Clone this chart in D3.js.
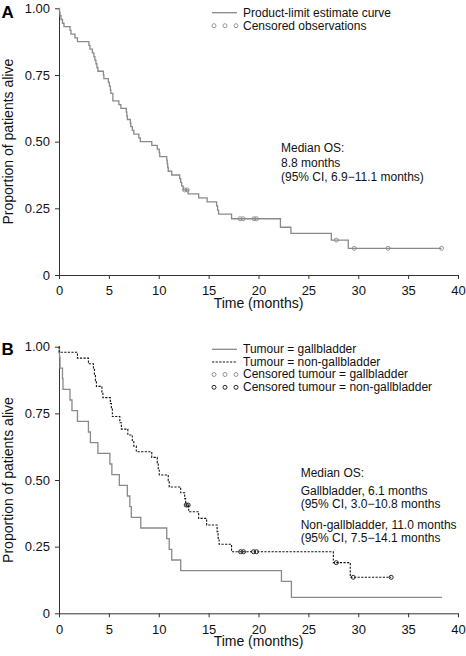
<!DOCTYPE html>
<html>
<head>
<meta charset="utf-8">
<script src="https://cdn.jsdelivr.net/npm/d3@7"></script>
<style>
  html, body { margin: 0; padding: 0; background: #fff; }
  svg { display: block; font-family: "Liberation Sans", Arial, Helvetica, sans-serif; }
</style>
</head>
<body>
<svg id="chart" width="466" height="656"></svg>
<script>
// ---------- DATA ----------
const xTicks = [0, 5, 10, 15, 20, 25, 30, 35, 40];
const yTicks = [0, 0.25, 0.5, 0.75, 1];
const yTickLabels = ["0", "0.25", "0.50", "0.75", "1.00"];

// Panel A: all patients (time of step, survival after step)
const allTimes = [0, 0.05, 0.1, 0.2, 0.35, 0.5, 1.1, 1.2, 1.6, 1.85, 3.0, 3.1, 3.35, 3.5, 3.6, 3.7, 3.8, 3.9, 4.45, 4.5,
  4.95, 5.05, 5.15, 5.2, 5.4, 6.0, 6.2, 6.75, 6.8, 6.85, 7.15, 7.2, 7.35, 7.5, 8.0, 8.15, 9.3, 9.85, 10.05, 10.1,
  10.8, 10.85, 10.9, 10.95, 11.3, 12.1, 12.2, 12.3, 12.45, 12.95, 14.0, 14.85, 15.8, 15.9, 16.0, 17.3, 22.2, 23.25, 27.3, 29.0];
const allSurv = [1, .986, .972, .958, .944, .931, .917, .903, .889, .875, .861, .847, .833, .819, .806, .792, .778, .764, .75, .736,
  .722, .708, .694, .681, .653, .639, .625, .611, .597, .583, .569, .556, .542, .528, .514, .5, .486, .472, .458, .444,
  .431, .417, .403, .389, .375, .361, .347, .333, .319, .304, .289, .274, .259, .243, .228, .211, .179, .156, .131, .1];
const allCensor = [12.6, 12.85, 18.15, 18.45, 19.55, 19.8, 27.8, 29.6, 33.0, 38.35];
const allEnd = 38.35;

// Panel B: gallbladder
const gbTimes = [0, 0.05, 0.1, 0.35, 0.4, 1.1, 1.3, 1.85, 2.95, 3.15, 3.9, 5.1, 5.3, 6.05, 6.85, 7.1, 7.25, 8.2, 10.8, 11.05, 11.3, 12.2, 22.3, 23.3];
const gbSurv = [1, .96, .92, .88, .84, .80, .76, .72, .68, .64, .60, .56, .52, .48, .44, .40, .36, .32, .28, .24, .20, .16, .12, .06];
const gbCensor = [];
const gbEnd = 38.4;

// Panel B: non-gallbladder
const ngbTimes = [0, 0.01, 1.85, 2.95, 3.45, 3.55, 3.65, 3.75, 4.3, 4.4, 5.15, 5.25, 5.35, 6.1, 6.25, 6.9, 7.35, 7.5, 7.75, 9.3,
  9.85, 9.95, 10.05, 10.95, 11.05, 12.2, 12.6, 12.7, 13.0, 14.0, 14.8, 15.85, 15.95, 16.05, 17.3, 27.5, 29.2];
const ngbSurv = [1, .979, .957, .936, .915, .894, .872, .851, .83, .809, .787, .766, .738, .715, .691, .669, .648, .627, .606, .585,
  .564, .542, .519, .497, .474, .452, .43, .406, .381, .356, .331, .306, .282, .259, .231, .19, .135];
const ngbCensor = [12.75, 12.95, 18.2, 18.5, 19.5, 19.8, 27.8, 29.5, 33.3];
const ngbEnd = 33.3;

const legendA = ["Product-limit estimate curve", "Censored observations"];
const legendB = ["Tumour = gallbladder", "Tumour = non-gallbladder", "Censored tumour = gallbladder", "Censored tumour = non-gallbladder"];
const medianA = ["Median OS:", "8.8 months", "(95% CI, 6.9\u221211.1 months)"];
const medianB = ["Median OS:", "Gallbladder, 6.1 months", "(95% CI, 3.0\u221210.8 months", "Non-gallbladder, 11.0 months", "(95% CI, 7.5\u221214.1 months"];

// ---------- DRAW ----------
const svg = d3.select("#chart");
const GRAY = "#8a8a8a";
const AXIS = "#333";
const x = d3.scaleLinear().domain([0, 40]).range([59, 458]);

function stepPoints(times, surv, end) {
  const pts = times.map((t, i) => [t, surv[i]]);
  pts.push([end, surv[surv.length - 1]]);
  return pts;
}
function survAt(times, surv, t) {
  const i = d3.bisectRight(times, t) - 1;
  return surv[Math.max(0, i)];
}

function drawPanel(y, letter, letterY) {
  const g = svg.append("g");
  const ya = g.append("g").attr("transform", `translate(${x(0)},0)`)
    .call(d3.axisLeft(y).tickValues(yTicks).tickFormat((d, i) => yTickLabels[i]).tickSize(4).tickPadding(5).tickSizeOuter(0));
  const xa = g.append("g").attr("transform", `translate(0,${y(0)})`)
    .call(d3.axisBottom(x).tickValues(xTicks).tickFormat(d3.format("d")).tickSize(4).tickPadding(7).tickSizeOuter(0));
  [ya, xa].forEach(a => {
    a.selectAll("path, line").attr("stroke", AXIS).attr("stroke-width", 1);
    a.selectAll("text").attr("fill", "#111").style("font-size", "13px").style("font-family", "'Liberation Sans', Arial, sans-serif");
  });
  g.append("text").attr("x", 258.5).attr("y", y(0) + 32.5).attr("text-anchor", "middle")
    .style("font-size", "14px").attr("fill", "#111").text("Time (months)");
  const cy = (y(0) + y(1)) / 2;
  g.append("text").attr("transform", `translate(12.5,${cy}) rotate(-90)`).attr("text-anchor", "middle")
    .style("font-size", "14px").attr("fill", "#111").text("Proportion of patients alive");
  g.append("text").attr("x", 1.5).attr("y", letterY).style("font-size", "17px").style("font-weight", "bold")
    .attr("fill", "#000").text(letter);
  return g;
}

function drawCurve(g, y, times, surv, end, color, dash, width) {
  const line = d3.line().x(d => x(d[0])).y(d => y(d[1])).curve(d3.curveStepAfter);
  g.append("path").attr("d", line(stepPoints(times, surv, end)))
    .attr("fill", "none").attr("stroke", color).attr("stroke-width", width)
    .attr("stroke-dasharray", dash || null);
}
function drawCensor(g, y, times, surv, censor, color) {
  g.selectAll(null).data(censor).enter().append("circle")
    .attr("cx", d => x(d)).attr("cy", d => y(survAt(times, surv, d))).attr("r", 2)
    .attr("fill", "none").attr("stroke", color).attr("stroke-width", 0.9);
}
function legendCircles(g, cy, color) {
  [214, 225, 236].forEach(cx => g.append("circle").attr("cx", cx).attr("cy", cy).attr("r", 2)
    .attr("fill", "none").attr("stroke", color).attr("stroke-width", 0.9));
}
function textBlock(g, x0, ys, lines) {
  lines.forEach((s, i) => g.append("text").attr("x", x0).attr("y", ys[i]).style("font-size", "12px").attr("fill", "#111").text(s));
}

// Panel A
const yA = d3.scaleLinear().domain([0, 1]).range([275, 8.3]);
const gA = drawPanel(yA, "A", 18.3);
drawCurve(gA, yA, allTimes, allSurv, allEnd, GRAY, null, 1.3);
drawCensor(gA, yA, allTimes, allSurv, allCensor, GRAY);
gA.append("line").attr("x1", 212).attr("x2", 237).attr("y1", 12.7).attr("y2", 12.7).attr("stroke", GRAY).attr("stroke-width", 1.3);
legendCircles(gA, 25.7, GRAY);
textBlock(gA, 243, [16.6, 29.6], legendA);
textBlock(gA, 281, [151.5, 166.8, 181.2], medianA);

// Panel B
const yB = d3.scaleLinear().domain([0, 1]).range([613.3, 346.7]);
const gB = drawPanel(yB, "B", 355);
drawCurve(gB, yB, gbTimes, gbSurv, gbEnd, GRAY, null, 1.3);
drawCurve(gB, yB, ngbTimes, ngbSurv, ngbEnd, "#111", "2.2,1.4", 1.1);
drawCensor(gB, yB, gbTimes, gbSurv, gbCensor, GRAY);
drawCensor(gB, yB, ngbTimes, ngbSurv, ngbCensor, "#111");
gB.append("line").attr("x1", 212).attr("x2", 237).attr("y1", 349.3).attr("y2", 349.3).attr("stroke", GRAY).attr("stroke-width", 1.3);
gB.append("line").attr("x1", 212).attr("x2", 237).attr("y1", 362).attr("y2", 362).attr("stroke", "#111").attr("stroke-width", 1.1).attr("stroke-dasharray", "2.2,1.4");
legendCircles(gB, 374.5, GRAY);
legendCircles(gB, 387.3, "#111");
textBlock(gB, 243, [353.2, 365.8, 378.1, 390.6], legendB);
textBlock(gB, 300.7, [477.3, 495, 507.8, 529.3, 541.8], medianB);
</script>
</body>
</html>
